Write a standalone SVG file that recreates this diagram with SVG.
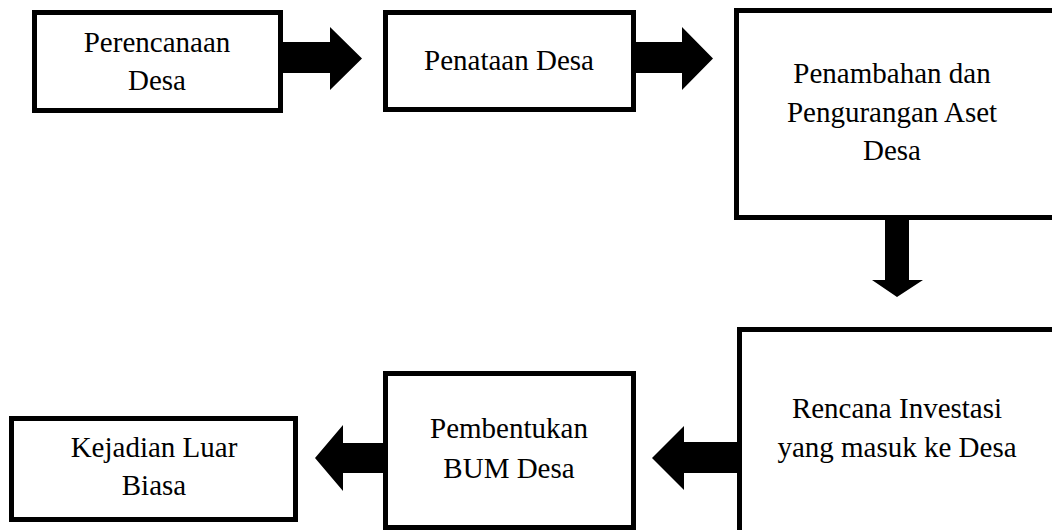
<svg xmlns="http://www.w3.org/2000/svg" width="1052" height="530" viewBox="0 0 1052 530">
<style>
.box{fill:#fff;stroke:#000;stroke-width:5}
.lbl{font-size:29px;fill:#000;text-anchor:middle}
.arr{fill:#000;stroke:none}
</style>
<rect width="1052" height="530" fill="#fff"/>
<g font-family="Liberation Serif, Times New Roman, Tinos, Noto Serif, DejaVu Serif, serif">
<g id="n1"><rect class="box" x="34.5" y="12.5" width="246" height="98"/>
<text class="lbl" x="157" y="52">Perencanaan</text><text class="lbl" x="157" y="90">Desa</text></g>
<g id="n2"><rect class="box" x="385.5" y="12.5" width="248" height="97"/>
<text class="lbl" x="509" y="70">Penataan Desa</text></g>
<g id="n3"><rect class="box" x="736.5" y="10.5" width="330" height="207"/>
<text class="lbl" x="892" y="83">Penambahan dan</text><text class="lbl" x="892" y="122">Pengurangan Aset</text><text class="lbl" x="892" y="160">Desa</text></g>
<g id="n4"><rect class="box" x="739.5" y="329.5" width="330" height="220"/>
<text class="lbl" x="897" y="418">Rencana Investasi</text><text class="lbl" x="897" y="457">yang masuk ke Desa</text></g>
<g id="n5"><rect class="box" x="385.5" y="373.5" width="248" height="154"/>
<text class="lbl" x="509" y="438">Pembentukan</text><text class="lbl" x="509" y="478">BUM Desa</text></g>
<g id="n6"><rect class="box" x="11.5" y="418.5" width="284" height="101"/>
<text class="lbl" x="154" y="457">Kejadian Luar</text><text class="lbl" x="154" y="495">Biasa</text></g>
</g>
<g id="connectors">
<polygon class="arr" points="283,42 330,42 330,27 362,58.5 330,90 330,73 283,73"/>
<polygon class="arr" points="636,42 682,42 682,27 713,58.5 682,90 682,73 636,73"/>
<polygon class="arr" points="885,219 909,219 909,280 923,280 897,297 872,280 885,280"/>
<polygon class="arr" points="738,442 684,442 684,426 652,458 684,490 684,473 738,473"/>
<polygon class="arr" points="384,443 343,443 343,425 315,458 343,491 343,473 384,473"/>
</g>
</svg>
